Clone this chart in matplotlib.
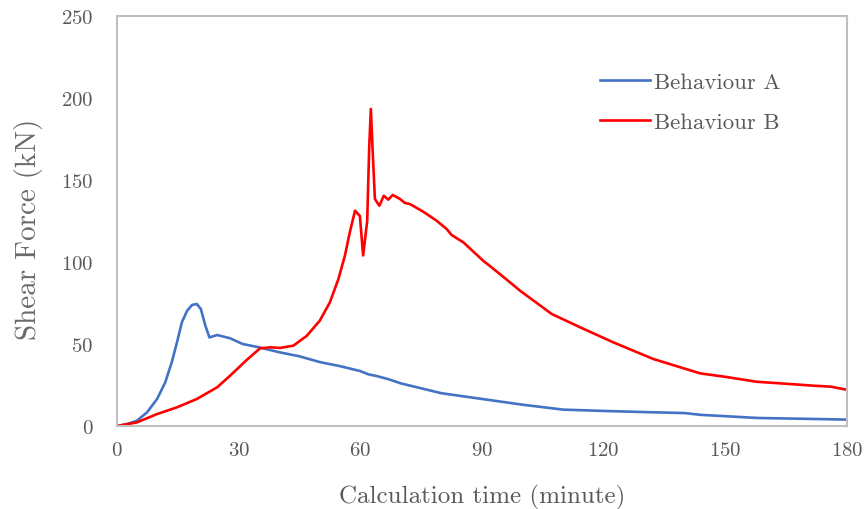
import numpy as np
import matplotlib
matplotlib.use("Agg")
import matplotlib.pyplot as plt

# values
t_a = [0, 2.5, 4.9, 7.4, 9.9, 11.9, 13.5, 14.8, 16, 17.3, 18.5, 19.7, 20.7, 21.8, 22.8,
       24.7, 27.9, 31, 35, 40, 45, 50, 55, 60, 62, 64, 67, 70, 75, 80, 90, 100, 110, 120,
       130, 140, 144, 150, 158, 165, 172, 180]
force_a = [0, 1.2, 3.2, 8.3, 16.5, 26.6, 38.8, 51, 63.2, 70.3, 73.8, 74.4, 71.3, 61.2, 54,
           55.5, 53.5, 50, 48, 45, 42.5, 39, 36.5, 33.5, 31.5, 30.5, 28.5, 26, 23, 20, 16.5,
           13, 10, 9.2, 8.5, 7.9, 6.8, 6, 4.9, 4.6, 4.3, 3.9]

t_b = [0, 4.9, 9.9, 14.8, 19.7, 24.7, 27.9, 32, 35.3, 38, 40.2, 43.5, 46.8, 50,
       52.5, 54.6, 56.2, 57.4, 58.7, 59.9, 60.7, 61.7, 62.2, 62.6, 63.1, 63.6, 64.7, 65.8,
       66.9, 68, 69.8, 71, 72.2, 75.5, 78.8, 81.3, 82.5, 85.4, 90.3, 94.4, 99.4, 107.2,
       114.2, 122.4, 132.2, 143.8, 150, 157.7, 166, 171.7, 176, 180]
force_b = [0, 2.2, 7.3, 11.4, 16.5, 23.6, 30.7, 40.3, 47.4, 48, 47.6, 49, 55, 64.2,
           75.4, 89.6, 103.8, 118, 131.3, 128, 104, 125, 170, 193.3, 165, 138.4, 134.3,
           140.4, 138, 140.9, 138.4, 136, 135.4, 130.7, 125.2, 120.1, 116.5, 112, 100.8,
           92.7, 82.5, 68.3, 60.2, 51, 40.9, 32.1, 30, 27, 25.6, 24.6, 24, 22.1]

x_ticks = [0, 30, 60, 90, 120, 150, 180]
y_ticks = [0, 50, 100, 150, 200, 250]

plt.rcParams['font.family'] = 'cmr10'
plt.rcParams['axes.formatter.use_mathtext'] = True
grey = '#595959'

fig = plt.figure(figsize=(8.67, 5.10), dpi=100)
ax = fig.add_axes([0.1349, 0.1627, 0.842, 0.804])

ax.plot(t_a, force_a, color='#4472C4', lw=1.9, label='Behaviour A')
ax.plot(t_b, force_b, color='#FF0000', lw=1.9, label='Behaviour B')

ax.set_xlim(0, 180)
ax.set_ylim(0, 250)
ax.set_xticks(x_ticks)
ax.set_yticks(y_ticks)
ax.tick_params(axis='both', length=0, labelsize=15, colors=grey)
ax.tick_params(axis='x', pad=11)
ax.tick_params(axis='y', pad=17)
for s in ax.spines.values():
    s.set_color('#BFBFBF')
    s.set_linewidth(1.5)

ax.set_xlabel('Calculation time (minute)', fontsize=18, color=grey, labelpad=18)
ax.set_ylabel('Shear Force (kN)', fontsize=21, color='#6a6a6a')
ax.yaxis.set_label_coords(-0.101, 0.483)

leg = ax.legend(loc='upper left', bbox_to_anchor=(600 / 867, 1 - 73 / 510),
                bbox_transform=fig.transFigure, frameon=False, fontsize=16.5,
                handlelength=2.2, handletextpad=0.15, labelspacing=0.85,
                borderpad=0, borderaxespad=0)
for txt in leg.get_texts():
    txt.set_color(grey)

fig.savefig('out.png', dpi=100)
